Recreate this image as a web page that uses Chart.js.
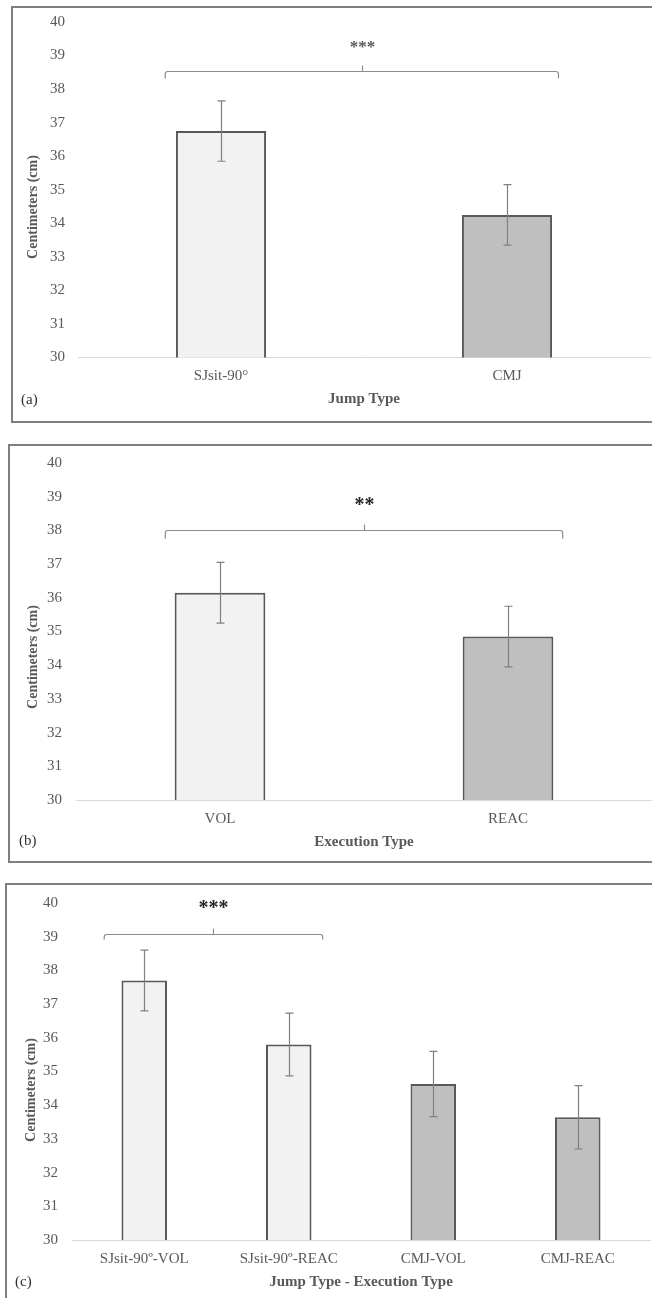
<!DOCTYPE html>
<html>
<head>
<meta charset="utf-8">
<script src="https://cdn.jsdelivr.net/npm/chart.js@4.4.1/dist/chart.umd.min.js"></script>
<style>
  body { margin: 0; background: #fff; width: 652px; height: 1298px; overflow: hidden; position: relative; }
  .frame { position: absolute; border: 2px solid #7f7f7f; box-sizing: border-box; }
  .panel { position: absolute; left: 0; }
</style>
</head>
<body>
<div class="frame" style="left:11px;top:6px;width:660px;height:417px"></div>
<div class="frame" style="left:8px;top:444px;width:660px;height:419px"></div>
<div class="frame" style="left:5px;top:883px;width:660px;height:500px"></div>

<canvas id="chart-a" class="panel" style="top:0px" width="652" height="430"></canvas>
<canvas id="chart-b" class="panel" style="top:440px" width="652" height="430"></canvas>
<canvas id="chart-c" class="panel" style="top:880px" width="652" height="418"></canvas>

<script>
// (a) jump type
const jumpLabels = ["SJsit-90°", "CMJ"];
const jumpMeans = [36.75, 34.25];
const jumpErrors = [0.9, 0.9];

// (b) execution type
const execLabels = ["VOL", "REAC"];
const execMeans = [36.15, 34.85];
const execErrors = [0.9, 0.9];

// (c) jump type - execution type
const comboLabels = ["SJsit-90º-VOL", "SJsit-90º-REAC", "CMJ-VOL", "CMJ-REAC"];
const comboMeans = [37.7, 35.8, 34.63, 33.64];
const comboErrors = [0.9, 0.93, 0.97, 0.94];

// y axis range shared by all panels
const yMin = 30;
const yMax = 40;
const yStep = 1;

const LIGHT = "#f2f2f2";
const DARK = "#bfbfbf";
const TEXT = "#595959";
const SERIF = "'Liberation Serif', 'Times New Roman', serif";

// error bars, significance bracket, rotated y title and panel letter
function extrasPlugin(p) {
  return {
    id: "extras",
    afterDatasetsDraw(chart) {
      const ctx = chart.ctx;
      const xs = chart.scales.x;
      const ys = chart.scales.y;
      const meta = chart.getDatasetMeta(0);
      ctx.save();

      // error bars
      ctx.strokeStyle = "#808080";
      ctx.lineWidth = 1.2;
      p.errors.forEach((e, i) => {
        const bx = Math.round(meta.data[i].x) + 0.5;
        const top = ys.getPixelForValue(p.means[i] + e);
        const bot = ys.getPixelForValue(p.means[i] - e);
        ctx.beginPath();
        ctx.moveTo(bx, top);
        ctx.lineTo(bx, bot);
        ctx.moveTo(bx - 4, top);
        ctx.lineTo(bx + 4, top);
        ctx.moveTo(bx - 4, bot);
        ctx.lineTo(bx + 4, bot);
        ctx.stroke();
      });

      // bracket
      const b = p.bracket;
      const x0 = xs.getPixelForValue(b.from);
      const x1 = xs.getPixelForValue(b.to);
      const xm = Math.round((x0 + x1) / 2) + 0.5;
      const by = Math.round(ys.getPixelForValue(b.level)) + 0.5;
      ctx.strokeStyle = "#8c8c8c";
      ctx.lineWidth = 1.2;
      ctx.beginPath();
      ctx.moveTo(x0, by + b.drop);
      ctx.arcTo(x0, by, xm, by, 2.5);
      ctx.arcTo(x1, by, x1, by + b.drop, 2.5);
      ctx.lineTo(x1, by + b.drop);
      ctx.moveTo(xm, by);
      ctx.lineTo(xm, by - b.rise);
      ctx.stroke();

      // stars
      ctx.fillStyle = b.starColor;
      ctx.font = "bold " + b.starSize + "px " + SERIF;
      ctx.textAlign = "center";
      ctx.textBaseline = "alphabetic";
      ctx.fillText(b.stars, xm, ys.getPixelForValue(b.starLevel) + 0.48 * b.starSize);

      // y axis title
      ctx.fillStyle = TEXT;
      ctx.font = "bold 14px " + SERIF;
      ctx.textBaseline = "middle";
      ctx.translate(p.yTitle.x, p.yTitle.y);
      ctx.rotate(-Math.PI / 2);
      ctx.fillText("Centimeters (cm)", 0, 0);
      ctx.setTransform(1, 0, 0, 1, 0, 0);

      // panel letter
      ctx.fillStyle = "#303030";
      ctx.font = "15px " + SERIF;
      ctx.textAlign = "left";
      ctx.fillText(p.letter.text, p.letter.x, p.letter.y);
      ctx.restore();
    },
  };
}

function makePanel(id, p) {
  new Chart(document.getElementById(id), {
    type: "bar",
    data: {
      labels: p.labels,
      datasets: [
        {
          data: p.means,
          backgroundColor: p.colors,
          borderColor: "#595959",
          borderWidth: 2,
          barPercentage: 0.315,
          categoryPercentage: 1,
        },
      ],
    },
    options: {
      responsive: false,
      animation: false,
      devicePixelRatio: 1,
      layout: { padding: p.padding },
      plugins: {
        legend: { display: false },
        tooltip: { enabled: false },
      },
      scales: {
        x: {
          grid: { display: false, drawTicks: false },
          border: { display: true, color: "#d9d9d9", width: 1 },
          ticks: { color: TEXT, font: { family: SERIF, size: 15 }, padding: 10 },
          title: {
            display: true,
            text: p.xTitle,
            color: TEXT,
            font: { family: SERIF, size: 15, weight: "bold" },
            padding: 0,
          },
          afterFit: (s) => { s.height = 51; },
        },
        y: {
          min: yMin,
          max: yMax,
          ticks: { stepSize: yStep, color: TEXT, font: { family: SERIF, size: 15 }, padding: p.tickPad },
          grid: { display: false, drawTicks: false },
          border: { display: false },
          afterFit: (s) => { s.width = p.yWidth; },
        },
      },
    },
    plugins: [extrasPlugin(p)],
  });
}

makePanel("chart-a", {
  labels: jumpLabels,
  means: jumpMeans,
  errors: jumpErrors,
  colors: [LIGHT, DARK],
  xTitle: "Jump Type",
  padding: { top: 21, bottom: 21.5, left: 0, right: 2 },
  yWidth: 78,
  tickPad: 13,
  yTitle: { x: 33, y: 207 },
  letter: { text: "(a)", x: 21, y: 400 },
  bracket: { from: -0.195, to: 1.18, level: 38.55, drop: 7, rise: 6, stars: "***", starLevel: 39.35, starSize: 17, starColor: "#595959" },
});

makePanel("chart-b", {
  labels: execLabels,
  means: execMeans,
  errors: execErrors,
  colors: [LIGHT, DARK],
  xTitle: "Execution Type",
  padding: { top: 21, bottom: 19, left: 0, right: 0 },
  yWidth: 76,
  tickPad: 14,
  yTitle: { x: 33, y: 217 },
  letter: { text: "(b)", x: 19, y: 401 },
  bracket: { from: -0.19, to: 1.19, level: 38.0, drop: 8, rise: 6, stars: "**", starLevel: 38.85, starSize: 20, starColor: "#262626" },
});

makePanel("chart-c", {
  labels: comboLabels,
  means: comboMeans,
  errors: comboErrors,
  colors: [LIGHT, LIGHT, DARK, DARK],
  xTitle: "Jump Type - Execution Type",
  padding: { top: 19, bottom: 7, left: 0, right: 2 },
  yWidth: 72,
  tickPad: 14,
  yTitle: { x: 31, y: 210 },
  letter: { text: "(c)", x: 15, y: 402 },
  bracket: { from: -0.277, to: 1.235, level: 39.09, drop: 5, rise: 6, stars: "***", starLevel: 39.97, starSize: 20, starColor: "#262626" },
});
</script>
</body>
</html>
